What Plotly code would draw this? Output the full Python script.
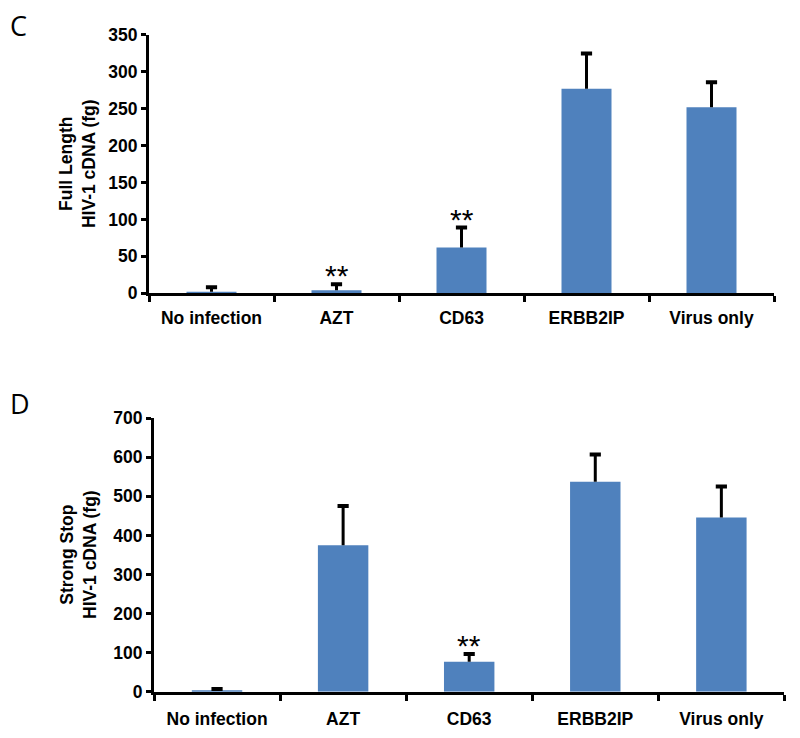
import plotly.graph_objects as go

categories = ["No infection", "AZT", "CD63", "ERBB2IP", "Virus only"]

full_length = [2, 4, 62, 277, 252]
full_length_err = [6, 8, 27, 48, 34]

strong_stop = [2, 375, 77, 537, 446]
strong_stop_err = [5, 100, 20, 70, 79]

full_length_sig = ["", "**", "**", "", ""]
strong_stop_sig = ["", "", "**", "", ""]

bar_color = "#4F81BD"
font_family = "Liberation Sans, Arial, sans-serif"

fig = go.Figure()

def add_panel(vals, errs, xa, ya):
    fig.add_trace(go.Bar(
        x=categories, y=vals, xaxis=xa, yaxis=ya,
        marker=dict(color=bar_color, line=dict(width=0)),
        width=0.4, showlegend=False, hoverinfo="x+y",
    ))
    # upper-only error bars: stems from bar top to bar top + error, cap at the top
    sx, sy = [], []
    for c, v, e in zip(categories, vals, errs):
        sx += [c, c, None]
        sy += [v, v + e, None]
    fig.add_trace(go.Scatter(x=sx, y=sy, xaxis=xa, yaxis=ya, mode="lines",
                             line=dict(color="black", width=3), showlegend=False, hoverinfo="skip"))
    fig.add_trace(go.Scatter(x=categories, y=[v + e for v, e in zip(vals, errs)], xaxis=xa, yaxis=ya,
                             mode="markers", marker=dict(symbol="line-ew", size=8,
                                                         line=dict(color="black", width=4)),
                             showlegend=False, hoverinfo="skip"))

add_panel(full_length, full_length_err, "x", "y")
add_panel(strong_stop, strong_stop_err, "x2", "y2")

axis_common = dict(showline=True, linecolor="black", linewidth=3, ticks="outside",
                   tickcolor="black", tickwidth=3, showgrid=False, zeroline=False)
xfont = dict(family=font_family, size=17.5, color="black", weight="bold")
yfont = dict(family=font_family, size=17.5, color="black", weight="bold")

top_dom = [0.6167, 0.9764]
bot_dom = [0.0615, 0.4427]

fig.update_layout(
    width=800, height=738,
    margin=dict(l=0, r=0, t=0, b=0),
    paper_bgcolor="white", plot_bgcolor="white",
    xaxis=dict(domain=[0.17625, 0.9575], anchor="y", type="category", tickson="boundaries",
               ticklen=6, range=[-0.5, 4.5], tickfont=xfont, ticklabelstandoff=7, **axis_common),
    yaxis=dict(domain=top_dom, anchor="x", range=[0, 350],
               tickvals=[0, 50, 100, 150, 200, 250, 300, 350],
               ticklen=5, tickfont=yfont, **axis_common),
    xaxis2=dict(domain=[0.1825, 0.9705], anchor="y2", type="category", tickson="boundaries",
                ticklen=6, range=[-0.5, 4.5], tickfont=xfont, ticklabelstandoff=9, **axis_common),
    yaxis2=dict(domain=bot_dom, anchor="x2", range=[0, 700],
                tickvals=[0, 100, 200, 300, 400, 500, 600, 700],
                ticklen=5, tickfont=yfont, **axis_common),
)

annotations = []
for cat, v, e, s in zip(categories, full_length, full_length_err, full_length_sig):
    if s:
        annotations.append(dict(x=cat, y=v + e, xref="x", yref="y", text=s, showarrow=False,
                                xanchor="center", yanchor="bottom", yshift=-10,
                                font=dict(family=font_family, size=30, color="black")))
for cat, v, e, s in zip(categories, strong_stop, strong_stop_err, strong_stop_sig):
    if s:
        annotations.append(dict(x=cat, y=v + e, xref="x2", yref="y2", text=s, showarrow=False,
                                xanchor="center", yanchor="bottom", yshift=-10,
                                font=dict(family=font_family, size=30, color="black")))

annotations += [
    dict(x=69/800, y=(top_dom[0] + top_dom[1]) / 2, xref="paper", yref="paper", textangle=-90,
         xanchor="center", yanchor="middle",
         text="<b>Full Length<br>HIV-1 cDNA (fg)</b>", showarrow=False,
         font=dict(family=font_family, size=17.5, color="black")),
    dict(x=71/800, y=(bot_dom[0] + bot_dom[1]) / 2, xref="paper", yref="paper", textangle=-90,
         xanchor="center", yanchor="middle",
         text="<b>Strong Stop<br>HIV-1 cDNA (fg)</b>", showarrow=False,
         font=dict(family=font_family, size=17.5, color="black")),
    dict(x=0, y=1, xref="paper", yref="paper", text="C", showarrow=False, yshift=13,
         xanchor="left", yanchor="top", font=dict(family="Open Sans, sans-serif", size=27, color="black")),
    dict(x=0, y=1 - 375/738, xref="paper", yref="paper", text="D", showarrow=False,
         xanchor="left", yanchor="top", font=dict(family="Open Sans, sans-serif", size=27, color="black")),
]
fig.update_layout(annotations=annotations)

fig.write_html("out.html")
